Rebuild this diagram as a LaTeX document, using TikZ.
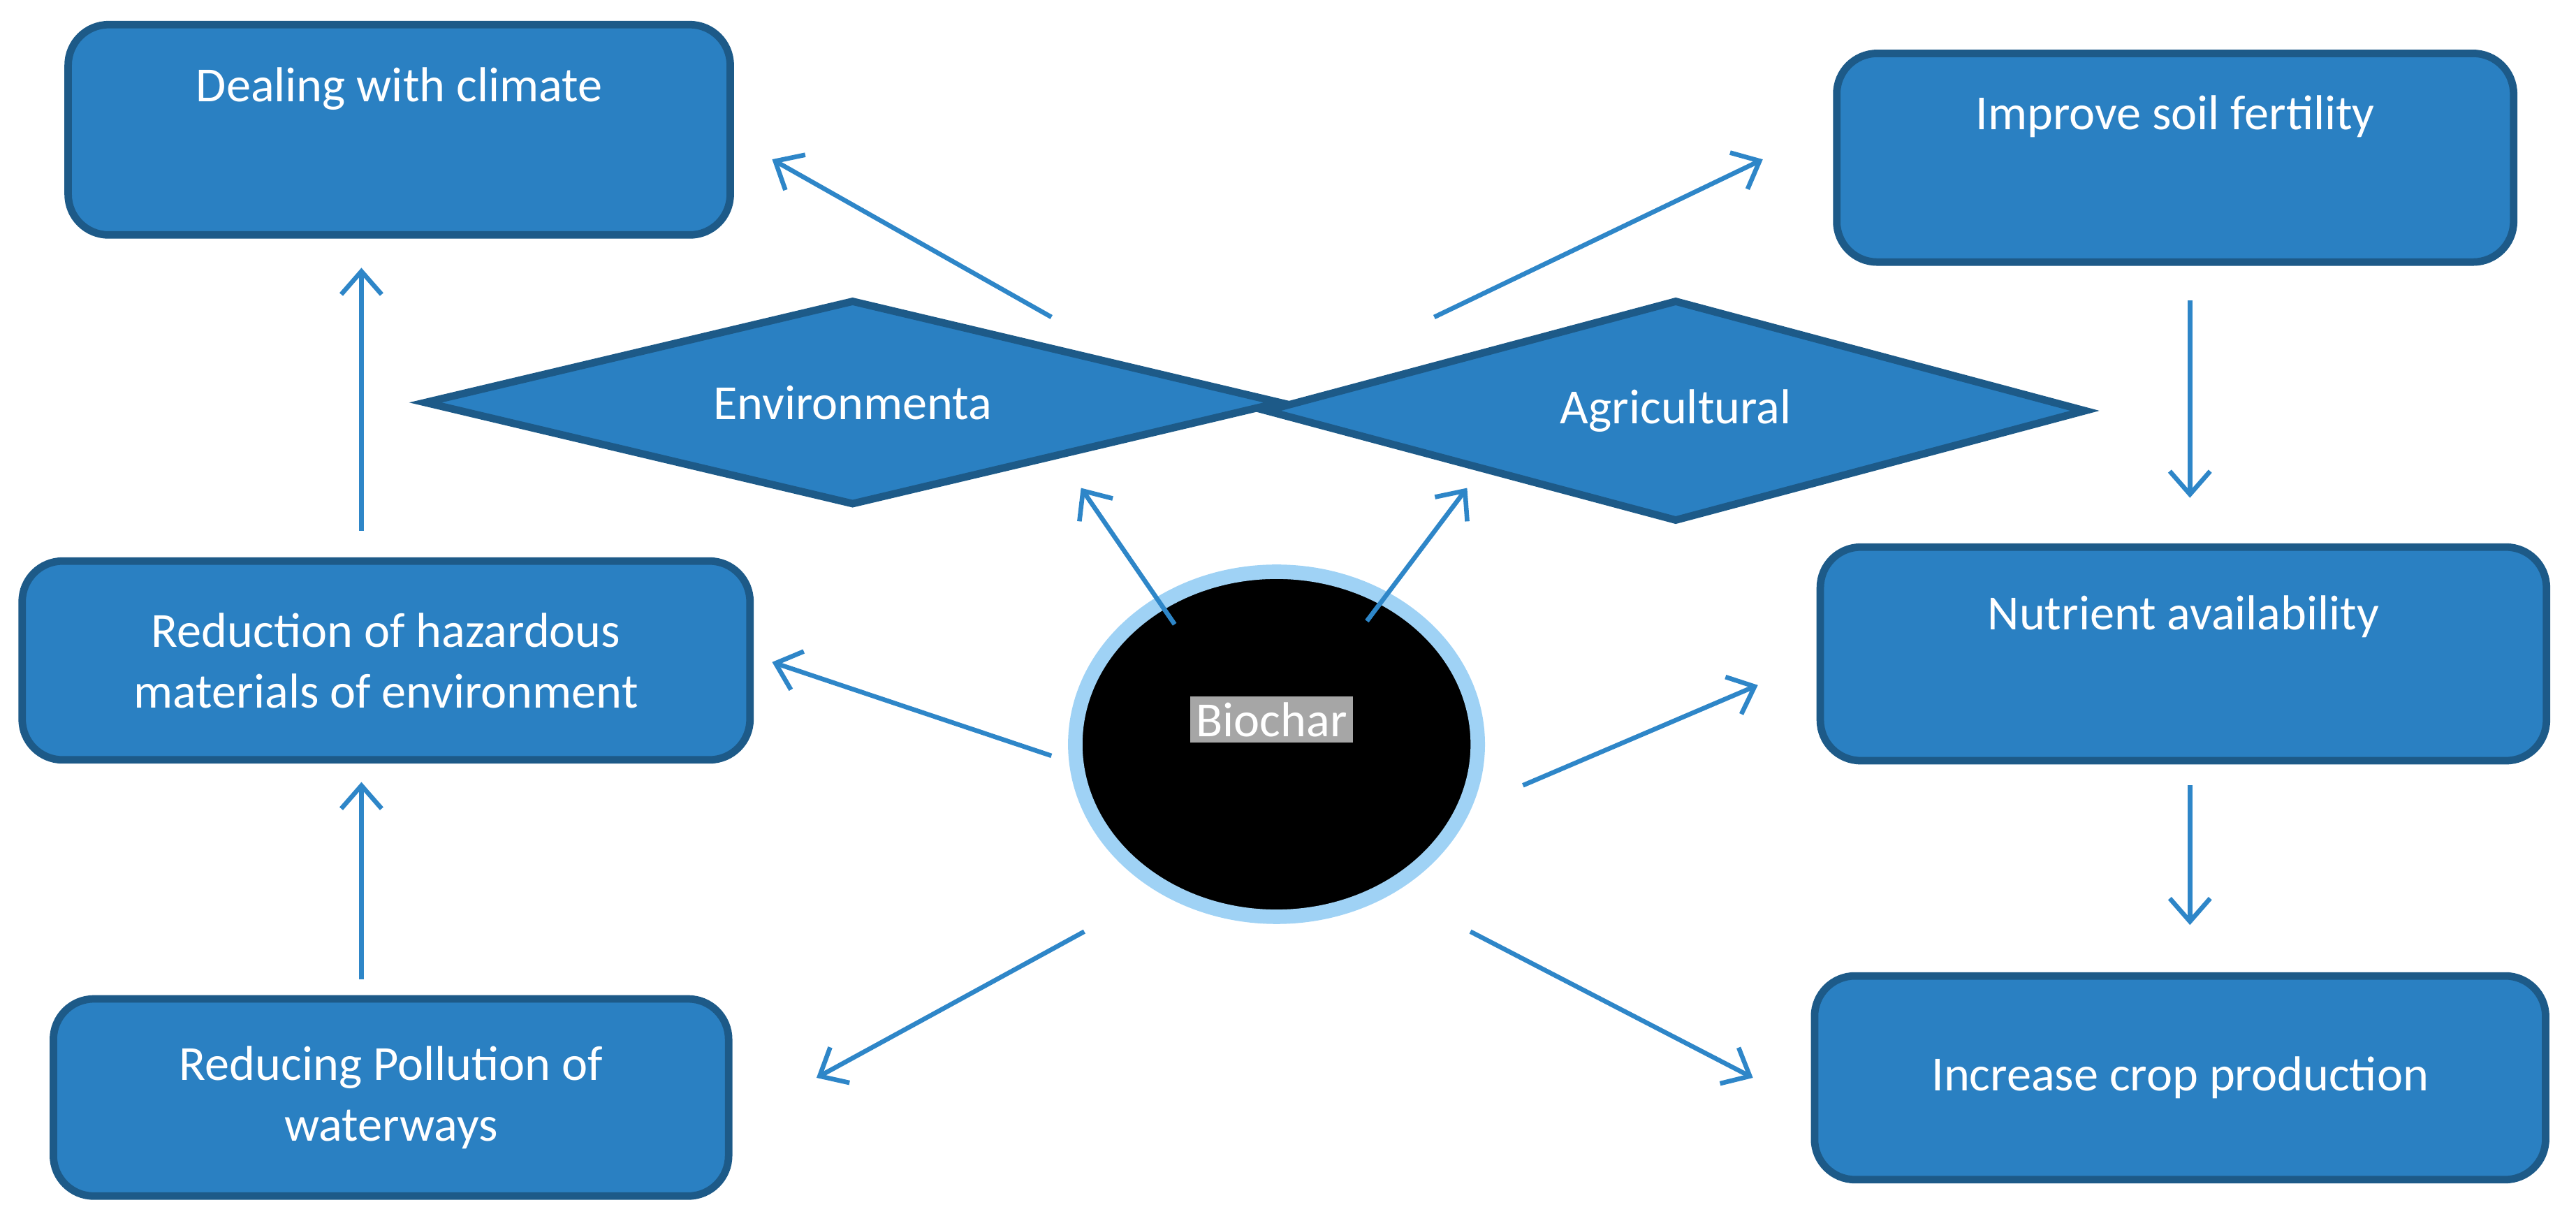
\documentclass[tikz,border=0pt]{standalone}
\usepackage{fontspec}
\setmainfont{Carlito}
\usetikzlibrary{shapes.geometric,arrows.meta}
\definecolor{boxblue}{HTML}{2A80C2}
\definecolor{boxline}{HTML}{1D5A88}
\definecolor{arrowblue}{HTML}{2E86C8}
\definecolor{glow}{HTML}{9FD2F5}
\tikzset{
  box/.style={draw=boxline, line width=1.3pt, fill=boxblue, rounded corners=7pt, text=white, align=center, font=\fontsize{8.5}{10.5}\selectfont},
  dia/.style={diamond, draw=boxline, line width=1.3pt, fill=boxblue, aspect=4.2, inner sep=0pt, text=white, font=\fontsize{8.5}{10.5}\selectfont},
  arr/.style={-{Straight Barb[length=4pt,width=7pt]}, color=arrowblue, line width=0.8pt}
}
\begin{document}
\begin{tikzpicture}
    \useasboundingbox (0,0) rectangle (15.68,7.47);
    % boxes
    \node[box, minimum width=4.03cm, minimum height=1.28cm, text depth=0.55cm] (climate) at (2.43,6.68) {Dealing with climate};
    \node[box, minimum width=4.12cm, minimum height=1.27cm, text depth=0.55cm] (soil) at (13.24,6.51) {Improve soil fertility};
    \node[box, minimum width=4.43cm, minimum height=1.21cm] (hazard) at (2.35,3.45) {Reduction of hazardous\\materials of environment};
    \node[box, minimum width=4.42cm, minimum height=1.30cm, text depth=0.5cm] (nutrient) at (13.29,3.49) {Nutrient availability};
    \node[box, minimum width=4.11cm, minimum height=1.20cm] (water) at (2.38,0.79) {Reducing Pollution of\\waterways};
    \node[box, minimum width=4.45cm, minimum height=1.24cm] (crop) at (13.27,0.91) {Increase crop production};
    % diamonds
    \node[dia, minimum width=5.22cm, minimum height=1.25cm] (env) at (5.19,7.47-2.45) {Environmenta};
    \node[dia, minimum width=5.0cm, minimum height=1.35cm] (agri) at (10.2,7.47-2.5) {Agricultural};
    % biochar
    \node[ellipse, fill=black, draw=glow, line width=2.5pt, minimum width=2.45cm, minimum height=2.1cm] (bio) at (7.77,2.94) {};
    \node[fill=gray!70, text=white, inner sep=1pt, font=\fontsize{8.5}{10.5}\selectfont] (biolabel) at (7.74,3.09) {Biochar};
    % arrow ends
    \coordinate (a1) at (6.40,5.54); \coordinate (b1) at (4.70,6.50);
    \coordinate (a2) at (8.73,5.54); \coordinate (b2) at (10.73,6.50);
    \coordinate (a3) at (2.20,4.24); \coordinate (b3) at (2.20,5.84);
    \coordinate (a4) at (13.33,5.64); \coordinate (b4) at (13.33,4.44);
    \coordinate (a5) at (7.15,3.67); \coordinate (b5) at (6.58,4.50);
    \coordinate (a6) at (8.32,3.69); \coordinate (b6) at (8.93,4.50);
    \coordinate (a7) at (6.40,2.87); \coordinate (b7) at (4.70,3.44);
    \coordinate (a8) at (9.27,2.69); \coordinate (b8) at (10.70,3.30);
    \coordinate (a9) at (2.20,1.51); \coordinate (b9) at (2.20,2.71);
    \coordinate (a10) at (13.33,2.69); \coordinate (b10) at (13.33,1.84);
    \coordinate (a11) at (6.60,1.80); \coordinate (b11) at (4.97,0.91);
    \coordinate (a12) at (8.95,1.80); \coordinate (b12) at (10.67,0.91);
    \foreach \i in {1,...,12}
        \draw[arr] (a\i) -- (b\i);
\end{tikzpicture}
\end{document}
